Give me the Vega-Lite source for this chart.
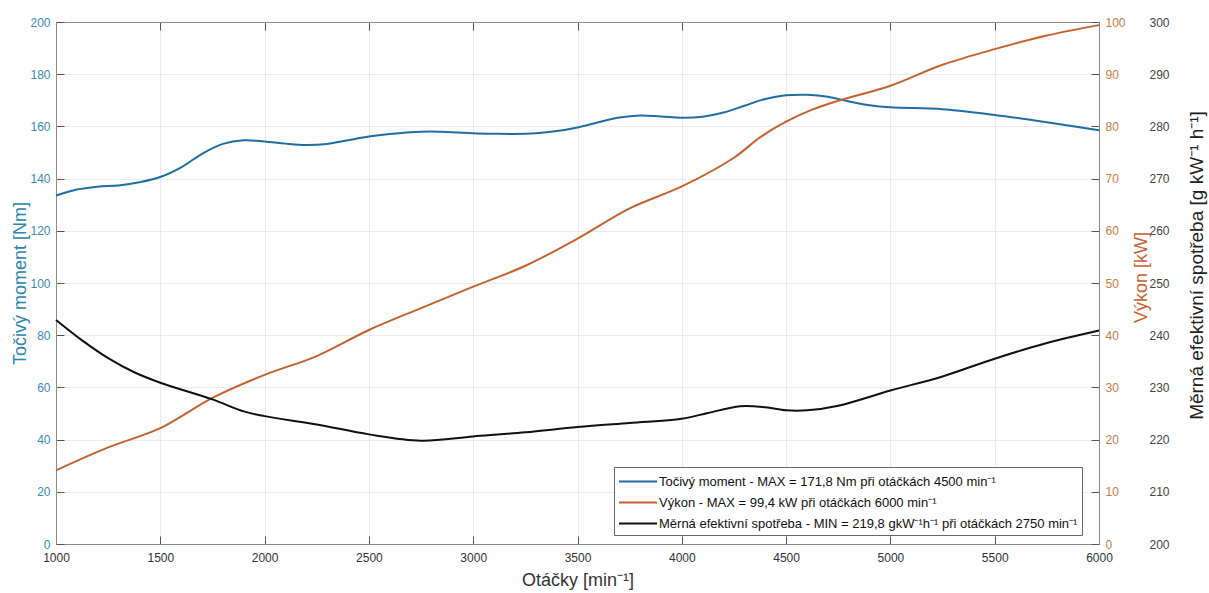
{
  "$schema": "https://vega.github.io/schema/vega-lite/v6.json",
  "width": 1043,
  "height": 522,
  "autosize": {"type": "none"},
  "padding": {"left": 56, "top": 22, "right": 110, "bottom": 49},
  "background": "white",
  "config": {
    "font": "Liberation Sans",
    "view": {"stroke": "#8c8c8c", "strokeWidth": 1},
    "axis": {"labelFont": "Liberation Sans", "titleFont": "Liberation Sans", "labelFontSize": 12, "titleFontSize": 18, "titleFontWeight": "normal", "gridColor": "#e8ecee", "gridWidth": 1, "domainColor": "#8c8c8c", "tickColor": "#555555"}
  },
  "datasets": {
    "torque": [
      {"rpm": 1000, "v": 133.5}, {"rpm": 1100, "v": 135.8}, {"rpm": 1200, "v": 136.9}, {"rpm": 1300, "v": 137.4},
      {"rpm": 1400, "v": 138.6}, {"rpm": 1500, "v": 140.6}, {"rpm": 1600, "v": 144.3}, {"rpm": 1700, "v": 149.5},
      {"rpm": 1800, "v": 153.3}, {"rpm": 1900, "v": 154.7}, {"rpm": 2000, "v": 154.2}, {"rpm": 2100, "v": 153.4},
      {"rpm": 2200, "v": 152.9}, {"rpm": 2300, "v": 153.3}, {"rpm": 2400, "v": 154.7}, {"rpm": 2500, "v": 156.1},
      {"rpm": 2600, "v": 157.1}, {"rpm": 2700, "v": 157.8}, {"rpm": 2800, "v": 158.0}, {"rpm": 2900, "v": 157.8},
      {"rpm": 3000, "v": 157.4}, {"rpm": 3100, "v": 157.2}, {"rpm": 3200, "v": 157.1}, {"rpm": 3300, "v": 157.4},
      {"rpm": 3400, "v": 158.2}, {"rpm": 3500, "v": 159.6}, {"rpm": 3600, "v": 161.6}, {"rpm": 3700, "v": 163.4},
      {"rpm": 3800, "v": 164.2}, {"rpm": 3900, "v": 163.8}, {"rpm": 4000, "v": 163.3}, {"rpm": 4100, "v": 163.7},
      {"rpm": 4200, "v": 165.3}, {"rpm": 4300, "v": 167.9}, {"rpm": 4400, "v": 170.5}, {"rpm": 4500, "v": 171.9},
      {"rpm": 4600, "v": 172.1}, {"rpm": 4700, "v": 171.4}, {"rpm": 4800, "v": 169.6}, {"rpm": 4900, "v": 168.1},
      {"rpm": 5000, "v": 167.3}, {"rpm": 5250, "v": 166.6}, {"rpm": 5500, "v": 164.4}, {"rpm": 5750, "v": 161.6},
      {"rpm": 6000, "v": 158.5}
    ],
    "power": [
      {"rpm": 1000, "v": 14.1}, {"rpm": 1250, "v": 18.5}, {"rpm": 1500, "v": 22.2}, {"rpm": 1750, "v": 28.0},
      {"rpm": 2000, "v": 32.4}, {"rpm": 2250, "v": 36.0}, {"rpm": 2500, "v": 41.0}, {"rpm": 2750, "v": 45.2},
      {"rpm": 3000, "v": 49.3}, {"rpm": 3250, "v": 53.3}, {"rpm": 3500, "v": 58.5}, {"rpm": 3750, "v": 64.3},
      {"rpm": 4000, "v": 68.5}, {"rpm": 4250, "v": 74.0}, {"rpm": 4375, "v": 77.9}, {"rpm": 4500, "v": 80.9},
      {"rpm": 4625, "v": 83.2}, {"rpm": 4750, "v": 84.9}, {"rpm": 5000, "v": 87.8}, {"rpm": 5250, "v": 91.8}, {"rpm": 5500, "v": 94.8},
      {"rpm": 5750, "v": 97.4}, {"rpm": 6000, "v": 99.4}
    ],
    "cons": [
      {"rpm": 1000, "v": 242.9}, {"rpm": 1125, "v": 239.0}, {"rpm": 1250, "v": 235.6}, {"rpm": 1375, "v": 232.9},
      {"rpm": 1500, "v": 230.9}, {"rpm": 1750, "v": 227.7}, {"rpm": 1900, "v": 225.4}, {"rpm": 2000, "v": 224.5},
      {"rpm": 2250, "v": 222.9}, {"rpm": 2500, "v": 221.0}, {"rpm": 2750, "v": 219.8}, {"rpm": 3000, "v": 220.6},
      {"rpm": 3250, "v": 221.4}, {"rpm": 3500, "v": 222.4}, {"rpm": 3750, "v": 223.2}, {"rpm": 4000, "v": 224.0},
      {"rpm": 4125, "v": 225.1}, {"rpm": 4280, "v": 226.4}, {"rpm": 4400, "v": 226.2}, {"rpm": 4500, "v": 225.6},
      {"rpm": 4600, "v": 225.6}, {"rpm": 4750, "v": 226.5}, {"rpm": 5000, "v": 229.4}, {"rpm": 5250, "v": 232.1},
      {"rpm": 5500, "v": 235.5}, {"rpm": 5750, "v": 238.5}, {"rpm": 6000, "v": 240.9}
    ]
  },
  "layer": [
    {
      "data": {"name": "torque"},
      "mark": {"type": "line", "interpolate": "catmull-rom", "strokeWidth": 2},
      "encoding": {
        "x": {"field": "rpm", "type": "quantitative", "scale": {"domain": [1000, 6000], "nice": false},
          "axis": {"title": "Otáčky [min⁻¹]", "titleColor": "#333333", "titlePadding": 8, "labelColor": "#333333", "format": "d", "values": [1000,1500,2000,2500,3000,3500,4000,4500,5000,5500,6000], "tickSize": -8, "labelPadding": 16, "grid": true, "labelFlush": false}},
        "y": {"field": "v", "type": "quantitative", "scale": {"domain": [0, 200], "nice": false},
          "axis": {"title": "Točivý moment [Nm]", "titleColor": "#2b86b3", "titleX": -36, "titleY": 261, "titleAngle": 270, "titleAlign": "center", "titleBaseline": "middle", "labelColor": "#3d8ab4", "values": [0,20,40,60,80,100,120,140,160,180,200], "tickSize": -8, "labelPadding": 14, "grid": true}},
        "color": {"datum": "Točivý moment - MAX = 171,8 Nm při otáčkách 4500 min⁻¹", "type": "nominal",
          "scale": {"domain": ["Točivý moment - MAX = 171,8 Nm při otáčkách 4500 min⁻¹", "Výkon - MAX = 99,4 kW při otáčkách 6000 min⁻¹", "Měrná efektivní spotřeba - MIN = 219,8 gkW⁻¹h⁻¹ při otáčkách 2750 min⁻¹"], "range": ["#1f6fa3", "#c8622f", "#111111"]},
          "legend": {"title": null, "orient": "none", "legendX": 558, "legendY": 445, "direction": "vertical", "symbolType": "M-1,0H3", "symbolSize": 361, "symbolStrokeWidth": 2, "labelFontSize": 13, "labelColor": "#111111", "labelLimit": 600, "strokeColor": "#666666", "fillColor": "white", "padding": 4, "rowPadding": 3, "labelOffset": 20}}
      }
    },
    {
      "data": {"name": "power"},
      "mark": {"type": "line", "interpolate": "catmull-rom", "strokeWidth": 2},
      "encoding": {
        "x": {"field": "rpm", "type": "quantitative", "scale": {"domain": [1000, 6000], "nice": false},
          "axis": {"orient": "top", "title": null, "labels": false, "values": [1500,2000,2500,3000,3500,4000,4500,5000,5500], "tickSize": -8, "grid": false}},
        "y": {"field": "v", "type": "quantitative", "scale": {"domain": [0, 100], "nice": false},
          "axis": {"orient": "right", "title": "Výkon [kW]", "titleX": 42, "titleY": 255, "titleAngle": 270, "titleAlign": "center", "titleBaseline": "middle", "titleColor": "#c8622f", "labelColor": "#c87a45", "values": [0,10,20,30,40,50,60,70,80,90,100], "tickSize": -8, "labelPadding": 14, "grid": false}},
        "color": {"datum": "Výkon - MAX = 99,4 kW při otáčkách 6000 min⁻¹", "type": "nominal"}
      }
    },
    {
      "data": {"name": "cons"},
      "mark": {"type": "line", "interpolate": "catmull-rom", "strokeWidth": 2},
      "encoding": {
        "x": {"field": "rpm", "type": "quantitative", "scale": {"domain": [1000, 6000], "nice": false}, "axis": null},
        "y": {"field": "v", "type": "quantitative", "scale": {"domain": [200, 300], "nice": false},
          "axis": {"orient": "right", "offset": 48, "title": "Měrná efektivní spotřeba [g kW⁻¹ h⁻¹]", "titleX": 49, "titleY": 243, "titleAngle": 270, "titleAlign": "center", "titleBaseline": "middle", "titleFontSize": 19, "titleColor": "#222222", "labelColor": "#444444", "values": [200,210,220,230,240,250,260,270,280,290,300], "ticks": false, "domain": false, "labelPadding": 2, "grid": false}},
        "color": {"datum": "Měrná efektivní spotřeba - MIN = 219,8 gkW⁻¹h⁻¹ při otáčkách 2750 min⁻¹", "type": "nominal"}
      }
    }
  ],
  "resolve": {"scale": {"y": "independent"}, "axis": {"x": "independent", "y": "independent"}}
}
